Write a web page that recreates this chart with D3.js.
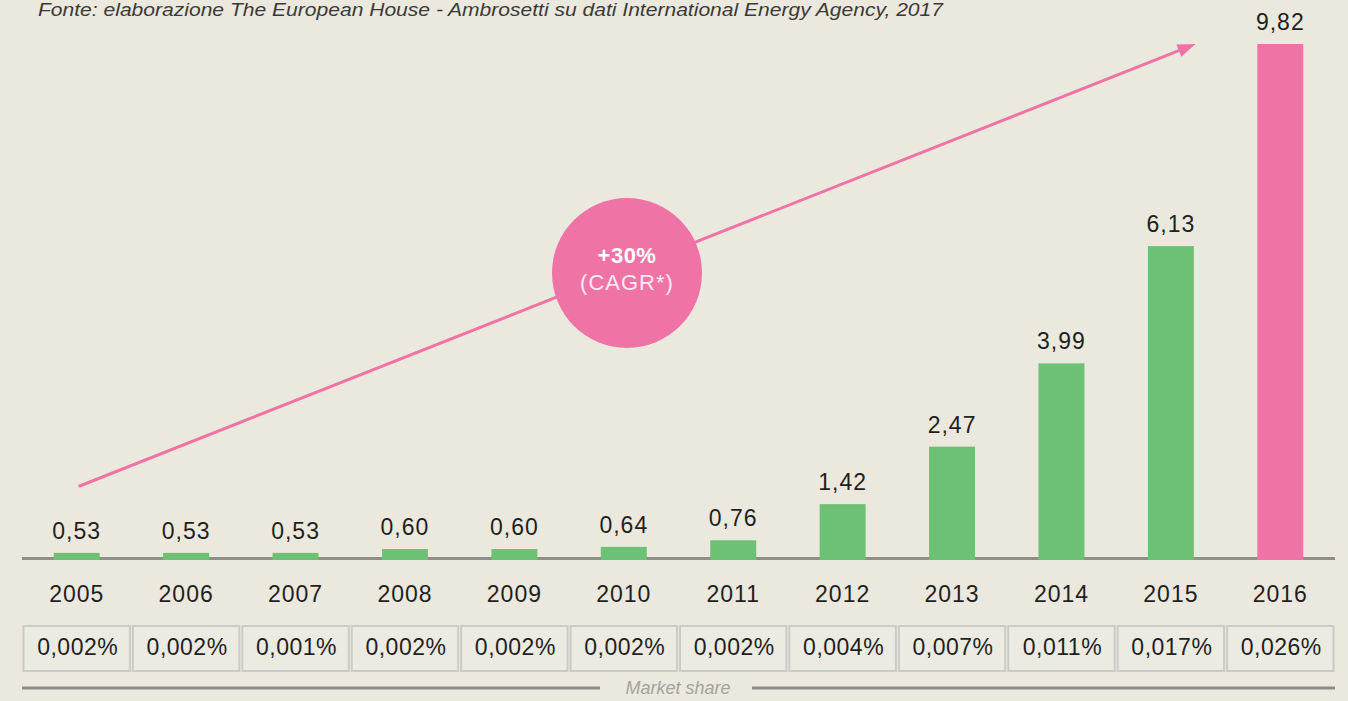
<!DOCTYPE html>
<html>
<head>
<meta charset="utf-8">
<script src="https://cdn.jsdelivr.net/npm/d3@7/dist/d3.min.js"></script>
<style>
  html, body { margin: 0; padding: 0; background: #ebe9de; overflow: hidden; }
  svg { display: block; }
</style>
</head>
<body>
<svg id="chart" width="1348" height="701"></svg>
<script>
// ---- data ----
const years = ["2005","2006","2007","2008","2009","2010","2011","2012","2013","2014","2015","2016"];
const values = [0.53, 0.53, 0.53, 0.60, 0.60, 0.64, 0.76, 1.42, 2.47, 3.99, 6.13, 9.82];
const valueLabels = ["0,53","0,53","0,53","0,60","0,60","0,64","0,76","1,42","2,47","3,99","6,13","9,82"];
const marketShare = ["0,002%","0,002%","0,001%","0,002%","0,002%","0,002%","0,002%","0,004%","0,007%","0,011%","0,017%","0,026%"];
const cagrLabel = "+30%";
const cagrSub = "(CAGR*)";
const sourceText = "Fonte: elaborazione The European House - Ambrosetti su dati International Energy Agency, 2017";
const shareTitle = "Market share";

// ---- layout ----
const W = 1348, H = 701;
const left = 22, right = 1335;
const baseY = 560, topY = 44;
const green = "#6cc174", pink = "#f073a6";
const textCol = "#1f1f1f";
const fontFam = "'Liberation Sans', Arial, Helvetica, sans-serif";

const svg = d3.select("#chart");
svg.append("rect").attr("width", W).attr("height", H).attr("fill", "#ebe9de");

const x = d3.scaleBand().domain(years).range([left, right]).padding(0);
const y = d3.scaleLinear().domain([0.4, d3.max(values)]).range([baseY, topY]);
const barW = x.bandwidth() * 0.42;
const cx = d => x(d) + x.bandwidth() / 2;

// source
svg.append("text")
  .attr("x", 38).attr("y", 16)
  .attr("font-family", fontFam).attr("font-style", "italic")
  .attr("font-size", 18).attr("fill", "#3a3a3a")
  .attr("textLength", 905).attr("lengthAdjust", "spacingAndGlyphs")
  .text(sourceText);

// baseline
svg.append("line")
  .attr("x1", left).attr("x2", right)
  .attr("y1", baseY - 1.5).attr("y2", baseY - 1.5)
  .attr("stroke", "#8f8f8a").attr("stroke-width", 3);

// bars
svg.append("g").selectAll("rect").data(years).join("rect")
  .attr("x", d => cx(d) - barW / 2)
  .attr("y", (d, i) => y(values[i]))
  .attr("width", barW)
  .attr("height", (d, i) => baseY - y(values[i]))
  .attr("fill", (d, i) => i === years.length - 1 ? pink : green);

// value labels
svg.append("g").selectAll("text").data(years).join("text")
  .attr("x", d => cx(d))
  .attr("y", (d, i) => y(values[i]) - 14)
  .attr("text-anchor", "middle")
  .attr("font-family", fontFam).attr("font-size", 23)
  .attr("letter-spacing", 1).attr("fill", textCol)
  .text((d, i) => valueLabels[i]);

// year axis labels
const xAxis = d3.axisBottom(x).tickSize(0).tickPadding(0);
const gx = svg.append("g").attr("transform", `translate(0, 602)`).call(xAxis);
gx.select(".domain").remove();
gx.selectAll("text")
  .attr("dy", 0).attr("y", 0)
  .attr("font-family", fontFam).attr("font-size", 23)
  .attr("letter-spacing", 1).attr("fill", textCol);

// market share boxes
const boxes = svg.append("g");
boxes.selectAll("rect").data(years).join("rect")
  .attr("x", d => x(d) + 1.5)
  .attr("y", 626)
  .attr("width", x.bandwidth() - 3)
  .attr("height", 45)
  .attr("fill", "#ecebe2")
  .attr("stroke", "#cbcbc6").attr("stroke-width", 2);
boxes.selectAll("text").data(years).join("text")
  .attr("x", d => cx(d) + 1)
  .attr("y", 655)
  .attr("text-anchor", "middle")
  .attr("font-family", fontFam).attr("font-size", 23)
  .attr("letter-spacing", 0.5).attr("fill", textCol)
  .text((d, i) => marketShare[i]);

// market share footer line and label
svg.append("line").attr("x1", left).attr("x2", 600).attr("y1", 688).attr("y2", 688)
  .attr("stroke", "#8f8f8a").attr("stroke-width", 3);
svg.append("line").attr("x1", 752).attr("x2", right).attr("y1", 688).attr("y2", 688)
  .attr("stroke", "#8f8f8a").attr("stroke-width", 3);
svg.append("text")
  .attr("x", 678).attr("y", 694)
  .attr("text-anchor", "middle")
  .attr("font-family", fontFam).attr("font-style", "italic")
  .attr("font-size", 18).attr("fill", "#a3a39c")
  .text(shareTitle);

// CAGR arrow
const x0 = cx(years[0]) + 3, y0 = 486;
const x1 = x(years[years.length - 1]) - 30, y1 = y(d3.max(values));
const dx = x1 - x0, dy = y1 - y0, len = Math.hypot(dx, dy);
const ux = dx / len, uy = dy / len;
const headL = 18, headW = 6.5;
const bx = x1 - ux * headL, by = y1 - uy * headL;
svg.append("line")
  .attr("x1", x0).attr("y1", y0).attr("x2", bx + ux * 2).attr("y2", by + uy * 2)
  .attr("stroke", pink).attr("stroke-width", 3).attr("stroke-linecap", "round");
svg.append("path")
  .attr("d", d3.line()([[x1, y1], [bx - uy * headW, by + ux * headW], [bx + uy * headW, by - ux * headW]]) + "Z")
  .attr("fill", pink);

// CAGR bubble
const ccx = 627, ccy = 273;
svg.append("circle").attr("cx", ccx).attr("cy", ccy).attr("r", 75).attr("fill", pink);
svg.append("text")
  .attr("x", ccx).attr("y", 263).attr("text-anchor", "middle")
  .attr("font-family", fontFam).attr("font-weight", "bold")
  .attr("font-size", 22).attr("letter-spacing", 0.5).attr("fill", "#ffffff")
  .text(cagrLabel);
svg.append("text")
  .attr("x", ccx).attr("y", 290).attr("text-anchor", "middle")
  .attr("font-family", fontFam)
  .attr("font-size", 22).attr("letter-spacing", 1).attr("fill", "#fde8f1")
  .text(cagrSub);
</script>
</body>
</html>
